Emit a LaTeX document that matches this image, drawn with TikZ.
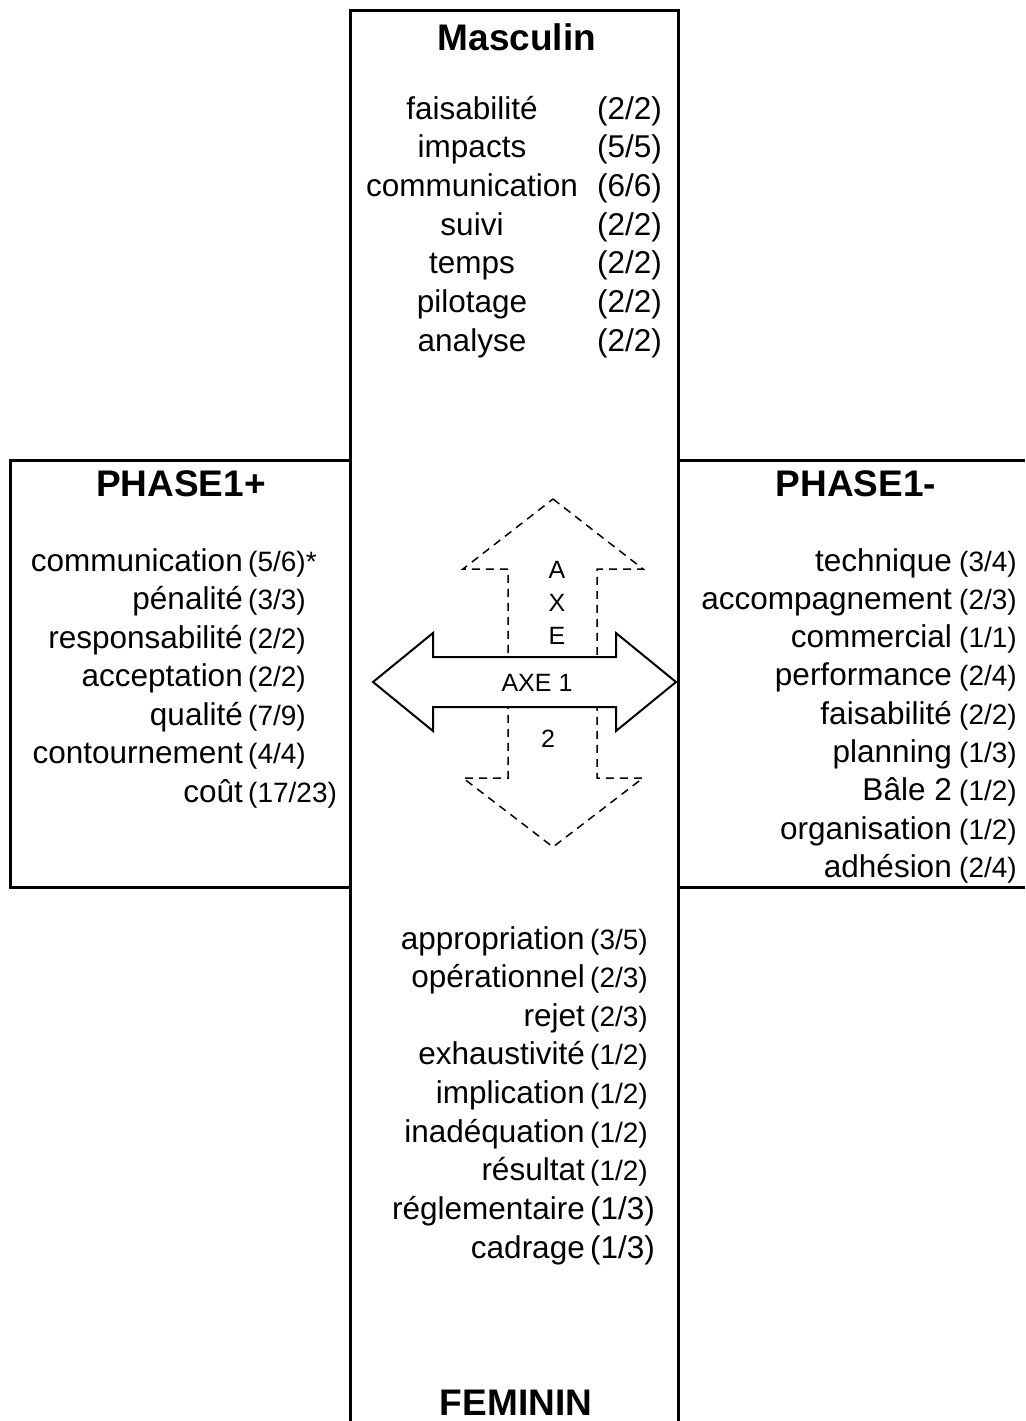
\documentclass[tikz,border=0pt]{standalone}
\usepackage{fontspec}
\setmainfont{Liberation Sans}
\usetikzlibrary{positioning}

\begin{document}
\begin{tikzpicture}[x=1pt, y=-1pt,
	frame/.style={line width=3pt},
	head/.style={font=\fontsize{37}{40}\selectfont\bfseries, inner sep=0pt, text height=26.5pt, text depth=0pt},
	item/.style={font=\fontsize{31.5}{36}\selectfont, inner sep=0pt, text height=23.5pt, text depth=7.5pt},
	num/.style={font=\fontsize{28}{32}\selectfont, inner sep=0pt, text height=23.5pt, text depth=7.5pt},
	axis/.style={font=\fontsize{25}{28}\selectfont, inner sep=0pt, text height=18pt, text depth=0pt}
	]
	\useasboundingbox (0,0) rectangle (1025,1421);
	% frames of the four quarters
	\draw[frame] (350,1421) -- (350,11) -- (678,11) -- (678,1421);
	\draw[frame] (350,460) -- (10,460) -- (10,887) -- (350,887);
	\draw[frame] (678,460) -- (1025,460);
	\draw[frame] (678,887) -- (1025,887);
	% axes
	\draw[dashed, line width=1.5pt, dash pattern=on 8pt off 6pt]
		(553,499) -- (643,569) -- (597,569) -- (597,778) -- (643,778) -- (553,847)
		-- (463,778) -- (508,778) -- (508,569) -- (463,569) -- cycle;
	\draw[line width=2pt, fill=white]
		(373,682) -- (433,633) -- (433,657) -- (616,657) -- (616,633) -- (676,682)
		-- (616,731) -- (616,707) -- (433,707) -- (433,731) -- cycle;
	\node[axis] (axe1) at (537,682) {AXE 1};
	\node[axis] (a2a) at (557,569) {A};
	\node[axis] (a2x) at (557,602) {X};
	\node[axis] (a2e) at (557,635) {E};
	\node[axis] (a2n) at (548,738) {2};
	% headings
	\node[head] (masc) at (517,37) {Masculin};
	\node[head] (plus) at (181,483) {PHASE1+};
	\node[head] (minus) at (856,483) {PHASE1-};
	\node[head] (fem) at (516,1402) {FEMININ};
	% Masculin
	\foreach \w/\n [count=\i] in {faisabilité/{(2/2)}, impacts/{(5/5)}, communication/{(6/6)},
		suivi/{(2/2)}, temps/{(2/2)}, pilotage/{(2/2)}, analyse/{(2/2)}} {
		\node[item] (m\i) at (472,{111+38.7*(\i-1)}) {\w};
		\node[item, anchor=east] (mn\i) at (662,{111+38.7*(\i-1)}) {\n};
	}
	% PHASE1+
	\foreach \w/\n [count=\i] in {communication/{(5/6)*}, pénalité/{(3/3)}, responsabilité/{(2/2)},
		acceptation/{(2/2)}, qualité/{(7/9)}, contournement/{(4/4)}, coût/{(17/23)}} {
		\node[item, anchor=east] (p\i) at (243,{563+38.5*(\i-1)}) {\w};
		\node[num, anchor=west] (pn\i) at (248,{563+38.5*(\i-1)}) {\n};
	}
	% PHASE1-
	\foreach \w/\n [count=\i] in {technique/{(3/4)}, accompagnement/{(2/3)}, commercial/{(1/1)},
		performance/{(2/4)}, faisabilité/{(2/2)}, planning/{(1/3)}, Bâle 2/{(1/2)},
		organisation/{(1/2)}, adhésion/{(2/4)}} {
		\node[num, anchor=east] (qn\i) at (1017,{563+38.3*(\i-1)}) {\n};
		\node[item, anchor=east] (q\i) at (952,{563+38.3*(\i-1)}) {\w};
	}
	% FEMININ
	\foreach \w/\n [count=\i] in {appropriation/{(3/5)}, opérationnel/{(2/3)}, rejet/{(2/3)},
		exhaustivité/{(1/2)}, implication/{(1/2)}, inadéquation/{(1/2)}, résultat/{(1/2)}} {
		\node[item, anchor=east] (f\i) at (585,{941+38.6*(\i-1)}) {\w};
		\node[num, anchor=west] (fn\i) at (590,{941+38.6*(\i-1)}) {\n};
	}
	\node[item, anchor=east] (f8) at (585,1211) {réglementaire};
	\node[item, anchor=west] (fn8) at (590,1211) {(1/3)};
	\node[item, anchor=east] (f9) at (585,1250) {cadrage};
	\node[item, anchor=west] (fn9) at (590,1250) {(1/3)};
\end{tikzpicture}
\end{document}
